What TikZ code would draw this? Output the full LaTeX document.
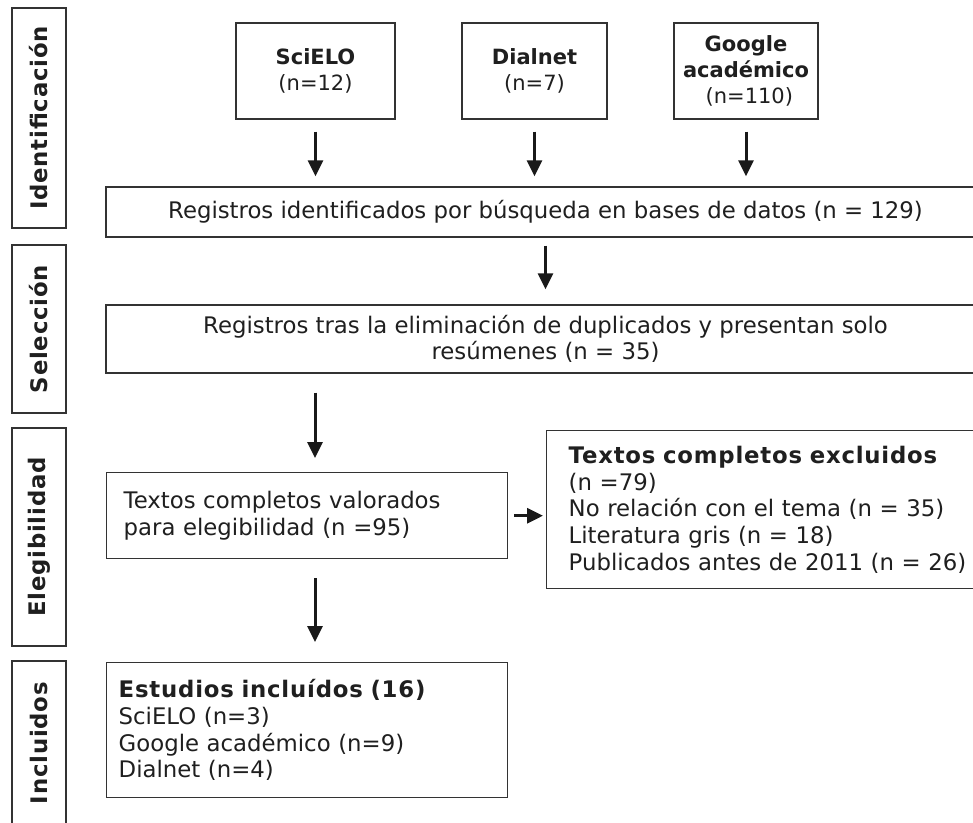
\documentclass[tikz,border=0pt]{standalone}
\usepackage{fontspec}
\setmainfont{DejaVu Sans}[BoldFeatures={LetterSpace=3.5}]
\newfontfamily\tightbf{DejaVu Sans Bold}
\usetikzlibrary{arrows.meta}
\begin{document}
\begin{tikzpicture}[x=1pt,y=-1pt,
  every node/.style={font=\fontsize{22.8}{26.7}\selectfont, text=black!88},
  box/.style={draw=black!80, line width=1.4pt, inner sep=0pt},
  side/.style={box, rotate=90, minimum height=54pt, font=\fontsize{22.8}{26}\selectfont\bfseries},
  src/.style={box, minimum height=96pt, align=center, font=\fontsize{21}{26}\selectfont},
  lbox/.style={box, anchor=north west, align=left},
  arr/.style={line width=3pt, black!90, -{Triangle[width=15pt,length=16pt]}}
]
\useasboundingbox (0,0) rectangle (973,822);
\clip (0,0) rectangle (973,822);
\fill[white] (0,0) rectangle (973,822);

% side labels
\node[side, minimum width=220pt] (sid) at (39,118) {Identificación};
\node[side, minimum width=168pt] (ssel) at (39,329) {Selección};
\node[side, minimum width=218pt] (seleg) at (39,537) {Elegibilidad};
\node[side, minimum width=164pt] (sinc) at (39,743) {Incluidos};

% sources
\node[src, minimum width=159pt] (sci) at (315.5,71) {{\tightbf SciELO}\\(n=12)};
\node[src, minimum width=145pt] (dia) at (534.5,71) {{\tightbf Dialnet}\\(n=7)};
\node[src, minimum width=144pt] (goo) at (746,71) {{\tightbf Google}\\{\tightbf académico}\\\ (n=110)};

% main flow
\node[box, minimum width=879pt, minimum height=50pt] (reg) at (545.5,212) {Registros identificados por búsqueda en bases de datos (n = 129)};
\node[box, minimum width=879pt, minimum height=68pt, align=center] (sel) at (545.5,339) {Registros tras la eliminación de duplicados y presentan solo\\resúmenes (n = 35)};
\node[lbox, text width=367pt, inner xsep=17pt, minimum height=86pt] (val) at (106,472) {Textos completos valorados\\para elegibilidad (n =95)};
\node[lbox, text width=430pt, inner xsep=22pt, minimum height=158pt] (exc) at (546,430) {\textbf{Textos completos excluidos}\\(n =79)\\No relación con el tema (n = 35)\\Literatura gris (n = 18)\\Publicados antes de 2011 (n = 26)};
\node[lbox, text width=377pt, inner xsep=12pt, minimum height=135pt] (inc) at (106,662) {\textbf{Estudios incluídos (16)}\\SciELO (n=3)\\Google académico (n=9)\\Dialnet (n=4)};

% arrows
\coordinate (ax) at (315,0);
\draw[arr, shorten <=12pt, shorten >=10pt] (sci.south) -- (sci.south |- reg.north);
\draw[arr, shorten <=12pt, shorten >=10pt] (dia.south) -- (dia.south |- reg.north);
\draw[arr, shorten <=12pt, shorten >=10pt] (goo.south) -- (goo.south |- reg.north);
\draw[arr, shorten <=8pt, shorten >=15pt] (reg.south) -- (reg.south |- sel.north);
\draw[arr, shorten <=19pt, shorten >=14pt] (sel.south -| ax) -- (val.north -| ax);
\draw[arr, shorten <=6pt, shorten >=3pt] (val.east) -- (val.east -| exc.west);
\draw[arr, shorten <=19pt, shorten >=20pt] (val.south -| ax) -- (inc.north -| ax);
\end{tikzpicture}
\end{document}
